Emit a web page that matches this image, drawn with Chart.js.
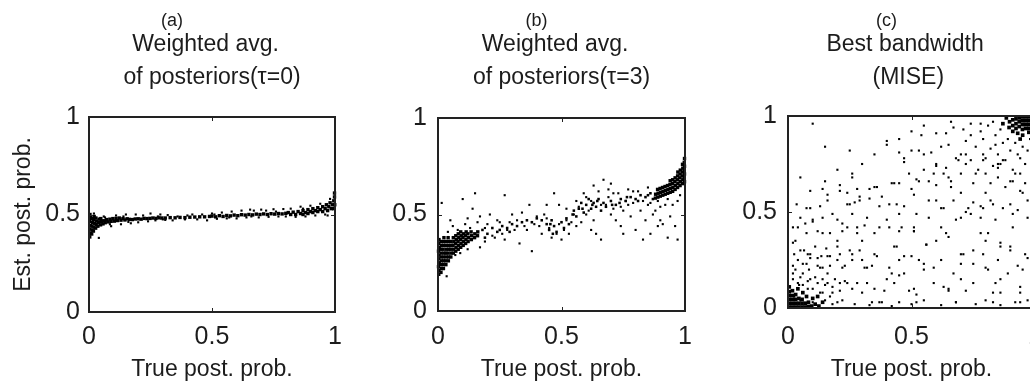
<!DOCTYPE html>
<html><head><meta charset="utf-8">
<script src="https://cdn.jsdelivr.net/npm/chart.js@4.4.0/dist/chart.umd.min.js"></script>
<style>
html,body{margin:0;padding:0;width:1030px;height:385px;overflow:hidden;background:#fff;}
.p{position:absolute;top:0;width:424px;height:385px;}
</style></head><body>
<div class="p" style="left:0px"><canvas id="ca" width="424" height="385"></canvas></div>
<div class="p" style="left:350px"><canvas id="cb" width="424" height="385"></canvas></div>
<div class="p" style="left:700px"><canvas id="cc" width="424" height="385"></canvas></div>
<script>
// ---------- data ----------
const panelLetters = ['(a)', '(b)', '(c)'];
const panelTitles = [
  ['Weighted avg.', 'of posteriors(τ=0)'],
  ['Weighted avg.', 'of posteriors(τ=3)'],
  ['Best bandwidth', '(MISE)']
];
const xAxisTitle = 'True post. prob.';
const yAxisTitle = 'Est. post. prob.';
const tickValues = [0, 0.5, 1];
const tickLabels = ['0', '0.5', '1'];

// (a) weighted average of posteriors, tau = 0
const aDense = [[0.003,0.385],[0.006,0.405],[0.004,0.425],[0.007,0.445],[0.003,0.465],[0.006,0.485],[0.004,0.50],
[0.011,0.40],[0.013,0.42],[0.012,0.44],[0.015,0.46],[0.011,0.48],
[0.018,0.415],[0.02,0.435],[0.022,0.455],[0.019,0.475],[0.021,0.49],
[0.027,0.43],[0.029,0.448],[0.031,0.466],[0.028,0.482],
[0.036,0.44],[0.039,0.458],[0.041,0.476],[0.047,0.447],[0.05,0.463],[0.048,0.479],
[0.057,0.452],[0.06,0.468],[0.066,0.458],[0.072,0.474],[0.078,0.462],[0.085,0.476],[0.09,0.465],
[0.097,0.479],[0.103,0.466],[0.11,0.48],[0.116,0.469],[0.123,0.482],[0.13,0.471],[0.138,0.479],[0.146,0.472],
[0.155,0.478],[0.164,0.475],[0.176,0.474],[0.188,0.477],[0.2,0.478],
[0.212,0.476],[0.224,0.48],[0.236,0.479],[0.248,0.48],[0.26,0.482],[0.272,0.48],[0.284,0.483],[0.296,0.482],
[0.31,0.482],[0.33,0.484],[0.35,0.483],[0.37,0.485],[0.39,0.484],[0.41,0.486],[0.43,0.487],[0.45,0.488],[0.47,0.488],
[0.49,0.49],[0.50,0.492],[0.515,0.488],[0.53,0.494],[0.545,0.49],[0.56,0.495],[0.575,0.493],[0.59,0.497],
[0.605,0.494],[0.62,0.499],[0.635,0.497],[0.65,0.5],[0.665,0.498],[0.68,0.502],[0.695,0.5],[0.71,0.503],
[0.725,0.5],[0.74,0.504],[0.755,0.502],[0.77,0.505],[0.785,0.503],[0.80,0.506],
[0.81,0.51],[0.82,0.50],[0.83,0.512],[0.84,0.50],[0.85,0.515],[0.86,0.505],[0.87,0.52],[0.87,0.50],
[0.88,0.51],[0.89,0.525],[0.89,0.505],[0.90,0.515],[0.91,0.53],[0.91,0.51],[0.92,0.52],[0.93,0.535],
[0.93,0.515],[0.94,0.525],[0.95,0.54],[0.95,0.515],[0.96,0.53],[0.965,0.55],[0.97,0.52],[0.975,0.54],
[0.98,0.56],[0.985,0.53],[0.99,0.55],[0.995,0.57],[0.995,0.53],[0.998,0.59],[0.998,0.61],[0.999,0.55]];
const aSparse = [[0.02,0.505],[0.04,0.38],[0.06,0.49],[0.09,0.44],[0.11,0.495],[0.13,0.45],[0.15,0.50],
[0.17,0.455],[0.19,0.50],[0.2,0.46],[0.22,0.495],[0.24,0.465],[0.25,0.505],[0.27,0.47],[0.29,0.50],
[0.3,0.475],[0.32,0.497],[0.34,0.47],[0.36,0.49],[0.39,0.475],[0.42,0.50],[0.44,0.475],[0.46,0.5],
[0.48,0.47],[0.5,0.505],[0.52,0.478],[0.54,0.51],[0.56,0.48],[0.58,0.515],[0.6,0.48],[0.62,0.52],
[0.64,0.485],[0.655,0.525],[0.67,0.52],[0.69,0.485],[0.7,0.525],[0.72,0.52],[0.73,0.488],[0.75,0.527],
[0.77,0.49],[0.79,0.528],[0.8,0.49],[0.82,0.53],[0.84,0.488],[0.86,0.54],[0.88,0.49],[0.9,0.545],
[0.92,0.495],[0.94,0.555],[0.96,0.5],[0.97,0.495],[0.98,0.58],[0.065,0.485],[0.085,0.45],[0.14,0.49],
[0.16,0.462],[0.28,0.49],[0.31,0.472],[0.4,0.495],[0.51,0.5],[0.57,0.485],[0.66,0.49],[0.76,0.515],[0.87,0.53]];

// (b) weighted average of posteriors, tau = 3
const bDense = [[0.003,0.19],[0.004,0.21],[0.002,0.23],[0.005,0.25],[0.003,0.27],[0.004,0.29],[0.002,0.31],[0.005,0.33],[0.003,0.35],[0.004,0.37],
[0.012,0.20],[0.013,0.22],[0.011,0.24],[0.014,0.26],[0.012,0.28],[0.013,0.30],[0.011,0.32],[0.014,0.34],[0.012,0.36],
[0.022,0.22],[0.021,0.24],[0.023,0.26],[0.022,0.28],[0.024,0.30],[0.021,0.32],[0.023,0.34],[0.022,0.36],[0.024,0.38],
[0.032,0.24],[0.031,0.26],[0.033,0.28],[0.032,0.30],[0.034,0.32],[0.031,0.34],[0.033,0.36],
[0.042,0.26],[0.043,0.28],[0.041,0.30],[0.044,0.32],[0.042,0.34],[0.043,0.36],[0.041,0.38],
[0.052,0.28],[0.053,0.30],[0.051,0.32],[0.054,0.34],[0.052,0.36],
[0.062,0.30],[0.063,0.32],[0.061,0.34],[0.064,0.36],[0.062,0.38],
[0.072,0.31],[0.073,0.33],[0.071,0.35],[0.074,0.37],[0.072,0.39],
[0.082,0.32],[0.083,0.34],[0.081,0.36],[0.084,0.38],[0.082,0.40],
[0.092,0.33],[0.093,0.35],[0.091,0.37],[0.094,0.39],[0.092,0.41],
[0.102,0.34],[0.103,0.36],[0.101,0.38],[0.104,0.40],
[0.112,0.35],[0.113,0.37],[0.111,0.39],[0.114,0.41],
[0.122,0.36],[0.123,0.38],[0.121,0.40],[0.135,0.37],[0.136,0.39],[0.134,0.41],
[0.148,0.38],[0.149,0.40],[0.16,0.39],[0.161,0.41],
[0.88,0.585],[0.881,0.605],[0.89,0.59],[0.891,0.61],[0.889,0.63],[0.90,0.595],[0.901,0.615],[0.899,0.635],
[0.91,0.60],[0.911,0.62],[0.909,0.64],[0.92,0.605],[0.921,0.625],[0.919,0.645],[0.93,0.61],[0.931,0.63],[0.929,0.65],
[0.94,0.615],[0.941,0.635],[0.939,0.655],[0.94,0.675],[0.95,0.62],[0.951,0.64],[0.949,0.66],[0.95,0.68],
[0.96,0.63],[0.961,0.65],[0.959,0.67],[0.96,0.69],[0.97,0.64],[0.971,0.66],[0.969,0.68],[0.97,0.70],[0.971,0.72],
[0.98,0.65],[0.981,0.67],[0.979,0.69],[0.98,0.71],[0.981,0.73],
[0.99,0.66],[0.991,0.68],[0.989,0.70],[0.99,0.72],[0.991,0.74],[0.99,0.76],
[0.998,0.67],[0.997,0.69],[0.998,0.71],[0.997,0.73],[0.998,0.75],[0.997,0.77],[0.998,0.79]];
const bMid = [[0.18,0.42],[0.2,0.40],[0.22,0.43],[0.24,0.41],[0.26,0.44],[0.28,0.43],[0.30,0.45],[0.32,0.44],
[0.34,0.46],[0.36,0.47],[0.38,0.46],[0.40,0.48],[0.42,0.47],[0.44,0.45],[0.45,0.42],[0.46,0.47],[0.47,0.44],
[0.48,0.41],[0.50,0.46],[0.51,0.43],[0.52,0.48],[0.53,0.45],[0.55,0.52],[0.56,0.49],[0.57,0.53],[0.58,0.56],
[0.59,0.51],[0.60,0.55],[0.61,0.58],[0.62,0.53],[0.63,0.56],[0.64,0.54],[0.65,0.58],[0.66,0.52],[0.67,0.56],
[0.68,0.54],[0.70,0.57],[0.72,0.55],[0.74,0.58],[0.76,0.57],[0.78,0.59],[0.80,0.58],[0.82,0.60],[0.84,0.59],
[0.86,0.61],[0.87,0.58],[0.19,0.38],[0.25,0.42],[0.29,0.41],[0.455,0.45],[0.465,0.40],[0.545,0.50],
[0.585,0.53],[0.625,0.55],[0.645,0.57],[0.705,0.55],[0.735,0.56],[0.765,0.59],[0.81,0.57],[0.85,0.60]];
const bSparse = [[0.015,0.56],[0.05,0.47],[0.10,0.58],[0.15,0.61],[0.14,0.53],[0.17,0.49],[0.19,0.43],
[0.21,0.50],[0.24,0.47],[0.26,0.40],[0.27,0.60],[0.28,0.42],[0.30,0.50],[0.32,0.47],[0.33,0.35],[0.37,0.55],
[0.38,0.31],[0.40,0.49],[0.42,0.40],[0.44,0.48],[0.45,0.43],[0.47,0.61],[0.48,0.40],[0.49,0.55],[0.51,0.42],
[0.52,0.47],[0.53,0.40],[0.55,0.50],[0.56,0.57],[0.57,0.54],[0.59,0.61],[0.60,0.50],[0.62,0.57],[0.63,0.47],
[0.64,0.40],[0.66,0.37],[0.67,0.68],[0.68,0.55],[0.70,0.50],[0.71,0.61],[0.72,0.47],[0.74,0.54],[0.75,0.40],
[0.76,0.57],[0.78,0.49],[0.79,0.62],[0.80,0.42],[0.82,0.52],[0.83,0.37],[0.84,0.47],[0.86,0.40],[0.87,0.50],
[0.89,0.57],[0.90,0.47],[0.93,0.38],[0.94,0.49],[0.97,0.37],[0.97,0.57],[0.07,0.29],[0.12,0.32],[0.19,0.36],
[0.035,0.18],[0.23,0.38],[0.36,0.42],[0.41,0.44],[0.58,0.46],[0.69,0.63],[0.77,0.63],[0.85,0.55],[0.92,0.55],
[0.06,0.44],[0.08,0.42],[0.11,0.45],[0.13,0.43],[0.16,0.46],[0.2,0.45],[0.22,0.39],[0.25,0.46],[0.29,0.46],
[0.31,0.42],[0.35,0.44],[0.39,0.45],[0.43,0.50],[0.46,0.38],[0.49,0.45],[0.54,0.46],[0.56,0.44],[0.6,0.59],
[0.61,0.52],[0.65,0.62],[0.66,0.55],[0.69,0.59],[0.71,0.53],[0.73,0.61],[0.75,0.52],[0.77,0.55],[0.79,0.56],
[0.81,0.62],[0.83,0.57],[0.85,0.64],[0.86,0.56],[0.88,0.52],[0.9,0.54],[0.91,0.45],[0.93,0.58],[0.95,0.55],
[0.96,0.44],[0.98,0.60],[0.63,0.65],[0.7,0.66],[0.52,0.53],[0.44,0.55],[0.34,0.51],[0.12,0.48],[0.09,0.3],
[0.04,0.41],[0.17,0.33],[0.27,0.37],[0.5,0.37],[0.62,0.42],[0.74,0.44],[0.89,0.44]];

// (c) best bandwidth (MISE)
const cDense = [[0.005,0.005],[0.005,0.025],[0.005,0.045],[0.005,0.065],[0.005,0.085],[0.005,0.11],
[0.018,0.005],[0.018,0.025],[0.018,0.045],[0.018,0.065],[0.018,0.09],[0.031,0.005],[0.031,0.025],[0.031,0.045],
[0.031,0.07],[0.044,0.005],[0.044,0.025],[0.044,0.05],[0.057,0.005],[0.057,0.025],[0.057,0.045],[0.07,0.005],
[0.07,0.025],[0.083,0.008],[0.083,0.03],[0.096,0.01],[0.11,0.02],[0.125,0.01],[0.14,0.03],[0.06,0.08],
[0.04,0.1],[0.075,0.06],[0.1,0.05],[0.12,0.06],
[0.975,0.995],[0.975,0.975],[0.975,0.955],[0.975,0.935],[0.975,0.915],[0.962,0.995],[0.962,0.975],
[0.962,0.955],[0.962,0.935],[0.949,0.995],[0.949,0.975],[0.949,0.955],[0.949,0.93],[0.936,0.99],[0.936,0.97],
[0.936,0.945],[0.923,0.985],[0.923,0.96],[0.923,0.935],[0.91,0.98],[0.91,0.95],[0.897,0.97],[0.884,0.99],
[0.93,0.91],[0.95,0.90],[0.91,0.92],[0.94,0.88],[0.895,0.94],[0.87,0.96]];
const cSparse = [[0.10,0.96],[0.15,0.84],[0.05,0.68],[0.09,0.61],[0.035,0.54],[0.02,0.42],[0.03,0.35],
[0.05,0.30],[0.075,0.39],[0.10,0.46],[0.13,0.53],[0.16,0.59],[0.18,0.49],[0.21,0.61],[0.24,0.54],[0.26,0.68],
[0.29,0.58],[0.32,0.47],[0.35,0.63],[0.37,0.53],[0.40,0.85],[0.42,0.65],[0.44,0.54],[0.47,0.78],[0.49,0.70],
[0.51,0.59],[0.53,0.66],[0.55,0.80],[0.57,0.56],[0.59,0.70],[0.60,0.91],[0.62,0.84],[0.64,0.73],[0.66,0.63],
[0.67,0.94],[0.68,0.78],[0.70,0.70],[0.72,0.87],[0.74,0.77],[0.75,0.65],[0.78,0.92],[0.79,0.80],[0.80,0.70],
[0.82,0.56],[0.83,0.97],[0.84,0.85],[0.86,0.75],[0.88,0.63],[0.90,0.54],[0.92,0.70],[0.94,0.78],[0.96,0.65],
[0.97,0.56],[0.87,0.77],[0.85,0.73],
[0.05,0.16],[0.075,0.23],[0.09,0.28],[0.11,0.32],[0.13,0.21],[0.14,0.15],[0.17,0.27],[0.18,0.11],[0.20,0.35],
[0.22,0.21],[0.24,0.42],[0.26,0.28],[0.28,0.13],[0.30,0.35],[0.32,0.21],[0.35,0.28],[0.37,0.42],[0.39,0.09],
[0.41,0.21],[0.43,0.32],[0.45,0.40],[0.47,0.18],[0.49,0.09],[0.51,0.40],[0.53,0.25],[0.56,0.33],[0.59,0.13],
[0.62,0.25],[0.64,0.39],[0.67,0.18],[0.70,0.28],[0.72,0.09],[0.75,0.23],[0.78,0.39],[0.80,0.21],[0.83,0.08],
[0.86,0.32],[0.89,0.18],[0.91,0.42],[0.94,0.11],[0.96,0.28],[0.97,0.04],
[0.05,0.47],[0.075,0.52],[0.12,0.40],[0.14,0.47],[0.17,0.39],[0.20,0.46],[0.22,0.40],[0.26,0.49],[0.28,0.39],
[0.35,0.39],[0.40,0.46],[0.45,0.49],[0.51,0.42],[0.57,0.47],[0.63,0.52],[0.68,0.46],[0.74,0.49],[0.79,0.52],
[0.84,0.46],[0.91,0.49],[0.97,0.47],
[0.02,0.15],[0.03,0.2],[0.045,0.12],[0.06,0.18],[0.08,0.14],[0.1,0.1],[0.11,0.16],[0.12,0.22],[0.15,0.12],
[0.16,0.18],[0.17,0.06],[0.19,0.15],[0.21,0.09],[0.23,0.14],[0.025,0.28],[0.04,0.25],[0.065,0.3],[0.085,0.2],
[0.135,0.27],[0.155,0.31],[0.2,0.25],[0.025,0.06],[0.05,0.04],[0.08,0.1],[0.1,0.03],[0.13,0.08],[0.15,0.04],
[0.18,0.02],[0.22,0.04],[0.27,0.02],[0.33,0.015],[0.37,0.03],[0.42,0.01],[0.5,0.02],[0.55,0.04],[0.62,0.015],
[0.68,0.03],[0.76,0.02],[0.8,0.04],[0.86,0.015],[0.92,0.03],
[0.7,0.8],[0.72,0.75],[0.74,0.9],[0.76,0.84],[0.77,0.72],[0.79,0.88],[0.8,0.78],[0.81,0.95],[0.82,0.83],
[0.83,0.74],[0.84,0.9],[0.85,0.8],[0.86,0.93],[0.87,0.86],[0.88,0.77],[0.89,0.88],[0.9,0.82],[0.91,0.72],
[0.92,0.86],[0.93,0.8],[0.94,0.7],[0.95,0.84],[0.96,0.75],[0.97,0.82],[0.98,0.88],[0.85,0.68],[0.9,0.66],
[0.95,0.6],[0.8,0.6],[0.75,0.55],
[0.3,0.75],[0.35,0.8],[0.45,0.88],[0.5,0.92],[0.55,0.95],[0.25,0.82],[0.2,0.72],[0.15,0.66],[0.6,0.75],
[0.65,0.85],[0.5,0.62],[0.45,0.65],[0.38,0.58],[0.33,0.62],[0.27,0.55],[0.55,0.72],[0.6,0.64],[0.65,0.68],
[0.7,0.6],[0.72,0.5],[0.6,0.35],[0.55,0.2],[0.65,0.1],[0.7,0.15],[0.75,0.3],[0.8,0.35],[0.85,0.25],[0.9,0.3],
[0.95,0.2],[0.45,0.25],[0.4,0.15],[0.35,0.1],[0.3,0.25],[0.25,0.3],
[0.40,0.87],[0.45,0.81],[0.50,0.82],[0.53,0.82],[0.54,0.90],[0.58,0.81],[0.64,0.91],[0.66,0.97],[0.71,0.93],
[0.74,0.96],[0.78,0.96],[0.14,0.62],[0.21,0.64],[0.24,0.60],[0.28,0.62],[0.26,0.70],[0.36,0.63],[0.43,0.65],
[0.47,0.76],[0.52,0.67],[0.57,0.66],[0.60,0.74],[0.63,0.70],[0.66,0.66],[0.69,0.77],[0.72,0.80],[0.76,0.70],
[0.79,0.77],[0.82,0.65],[0.85,0.75],[0.91,0.66],[0.94,0.61],[0.09,0.52],[0.16,0.56],[0.25,0.54],[0.29,0.56],
[0.33,0.57],[0.41,0.54],[0.47,0.53],[0.52,0.49],[0.60,0.56],[0.62,0.52],[0.67,0.56],[0.73,0.52],[0.78,0.53],
[0.83,0.54],[0.87,0.52],[0.93,0.51],[0.04,0.42],[0.07,0.44],[0.10,0.45],[0.14,0.39],[0.22,0.44],[0.28,0.42],
[0.31,0.43],[0.41,0.42],[0.46,0.42],[0.51,0.40],[0.56,0.33],[0.62,0.42],[0.70,0.47],[0.78,0.47],[0.81,0.39],
[0.86,0.34],[0.02,0.34],[0.08,0.28],[0.16,0.27],[0.20,0.32],[0.29,0.30],[0.36,0.27],[0.44,0.32],[0.50,0.27],
[0.65,0.37],[0.71,0.28],[0.79,0.28],[0.90,0.32],[0.97,0.26],
[0.02,0.22],[0.06,0.23],[0.09,0.26],[0.12,0.26],[0.14,0.21],[0.17,0.22],[0.21,0.28],[0.23,0.22],[0.26,0.25],
[0.31,0.21],[0.34,0.22],[0.42,0.18],[0.45,0.17],[0.47,0.27],[0.55,0.23],[0.59,0.21],[0.70,0.23],[0.81,0.20],
[0.86,0.15],[0.93,0.22],[0.02,0.18],[0.04,0.13],[0.06,0.12],[0.09,0.15],[0.12,0.13],[0.14,0.08],[0.16,0.13],
[0.18,0.08],[0.21,0.13],[0.24,0.13],[0.26,0.10],[0.30,0.08],[0.32,0.13],[0.43,0.13],[0.51,0.10],[0.52,0.07],
[0.63,0.11],[0.65,0.09],[0.75,0.13],[0.84,0.13],[0.86,0.08],[0.94,0.08],
[0.20,0.03],[0.34,0.03],[0.38,0.03],[0.45,0.03],[0.52,0.03],[0.68,0.03],[0.83,0.03],[0.94,0.03]];

// ---------- rendering ----------
const FONT = '"Liberation Sans", Arial, sans-serif';
const INK = '#1c1c1c';
const toPts = arr => arr.map(p => ({x: p[0], y: p[1]}));

const boxPlugin = {
  id: 'box',
  afterDatasetsDraw(chart) {
    const {ctx, chartArea: a, scales} = chart;
    ctx.save();
    ctx.strokeStyle = '#222';
    ctx.lineWidth = 2;
    ctx.strokeRect(a.left, a.top, a.right - a.left, a.bottom - a.top);
    ctx.lineWidth = 1;
    ctx.beginPath();
    const tl = 4;
    tickValues.forEach(v => {
      const px = Math.round(scales.x.getPixelForValue(v)) + 0.5;
      const py = Math.round(scales.y.getPixelForValue(v)) + 0.5;
      ctx.moveTo(px, a.bottom); ctx.lineTo(px, a.bottom - tl);
      ctx.moveTo(px, a.top); ctx.lineTo(px, a.top + tl);
      ctx.moveTo(a.left, py); ctx.lineTo(a.left + tl, py);
      ctx.moveTo(a.right, py); ctx.lineTo(a.right - tl, py);
    });
    ctx.stroke();
    ctx.restore();
  }
};

function makePanel(id, idx, sets, geom) {
  const datasets = sets.map(s => ({
    data: toPts(s.data),
    pointStyle: 'rect',
    pointRadius: s.r,
    pointBorderWidth: 0,
    backgroundColor: '#000',
    borderColor: '#000',
    showLine: false,
    clip: 3
  }));
  new Chart(document.getElementById(id), {
    type: 'scatter',
    data: {datasets},
    options: {
      responsive: false,
      animation: false,
      events: [],
      layout: {padding: {left: 0, right: geom.padRight, top: 0, bottom: 0}},
      plugins: {
        legend: {display: false},
        tooltip: {enabled: false},
        title: {
          display: true, fullSize: false,
          text: panelLetters[idx] + ' '.repeat(geom.letterPad),
          color: INK,
          font: {family: FONT, size: 18, weight: 'normal', lineHeight: '12px'},
          padding: {top: 15, bottom: 0}
        },
        subtitle: {
          display: true, fullSize: false,
          text: panelTitles[idx].map((t, i) => t + ' '.repeat(geom.linePad[i])),
          color: INK,
          font: {family: FONT, size: 23, weight: 'normal', lineHeight: '33px'},
          padding: {top: 1, bottom: geom.topGap}
        }
      },
      scales: {
        x: {
          type: 'linear', min: 0, max: 1,
          afterBuildTicks: s => { s.ticks = tickValues.map(v => ({value: v})); },
          afterFit: s => { s.height = geom.xHeight; },
          grid: {display: false, drawTicks: false},
          border: {display: false},
          ticks: {color: INK, font: {family: FONT, size: 25}, padding: geom.xTickPad,
                  maxRotation: 0, callback: (v, i) => tickLabels[i]},
          title: {display: true, text: xAxisTitle, color: INK,
                  font: {family: FONT, size: 23}, padding: {top: 0, bottom: 2}}
        },
        y: {
          type: 'linear', min: 0, max: 1,
          afterBuildTicks: s => { s.ticks = tickValues.map(v => ({value: v})); },
          afterFit: s => { s.width = geom.yWidth; },
          grid: {display: false, drawTicks: false},
          border: {display: false},
          ticks: {color: INK, font: {family: FONT, size: 25}, padding: geom.yTickPad,
                  callback: (v, i) => tickLabels[i]},
          title: {display: geom.yTitle, text: yAxisTitle, color: INK,
                  font: {family: FONT, size: 23}, padding: {top: 10, bottom: 0}}
        }
      }
    },
    plugins: [boxPlugin]
  });
}

makePanel('ca', 0, [{data: aDense, r: 2.4}, {data: aSparse, r: 1.5}],
  {padRight: 89, yWidth: 89, xHeight: 73, topGap: 23, xTickPad: 10, yTickPad: 9,
   yTitle: true, letterPad: 16, linePad: [2, 0]});
makePanel('cb', 1, [{data: bDense, r: 2.4}, {data: bMid, r: 1.8}, {data: bSparse, r: 1.5}],
  {padRight: 89, yWidth: 88, xHeight: 74, topGap: 24, xTickPad: 11, yTickPad: 11,
   yTitle: false, letterPad: 10, linePad: [2, 0]});
makePanel('cc', 2, [{data: cDense, r: 2.6}, {data: cSparse, r: 1.5}],
  {padRight: 89, yWidth: 88, xHeight: 77, topGap: 22, xTickPad: 14, yTickPad: 11,
   yTitle: false, letterPad: 10, linePad: [2, 1]});
</script>
</body></html>
